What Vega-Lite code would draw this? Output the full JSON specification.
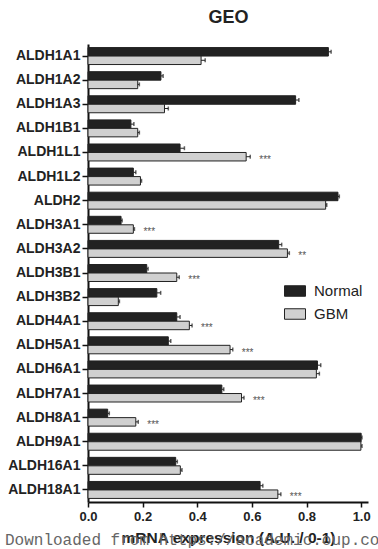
{
  "$schema": "https://vega.github.io/schema/vega-lite/v6.json",
  "autosize": "none",
  "width": 280,
  "height": 458,
  "padding": {"left": 88, "top": 44, "right": 10, "bottom": 47},
  "background": "white",
  "config": {
    "font": "Liberation Sans",
    "view": {"stroke": null}
  },
  "title": {
    "text": "Downloaded from https://academic.oup.com",
    "orient": "bottom",
    "anchor": "start",
    "frame": "group",
    "font": "Liberation Mono",
    "fontSize": 16,
    "fontWeight": "normal",
    "color": "#666666",
    "offset": -14,
    "dx": -83
  },
  "data": {
    "values": [
      {"gene": "ALDH1A1", "group": "Normal", "value": 0.88, "hi": 0.89},
      {"gene": "ALDH1A1", "group": "GBM", "value": 0.414, "hi": 0.429},
      {"gene": "ALDH1A2", "group": "Normal", "value": 0.267, "hi": 0.275},
      {"gene": "ALDH1A2", "group": "GBM", "value": 0.182, "hi": 0.188},
      {"gene": "ALDH1A3", "group": "Normal", "value": 0.76, "hi": 0.772},
      {"gene": "ALDH1A3", "group": "GBM", "value": 0.28, "hi": 0.294},
      {"gene": "ALDH1B1", "group": "Normal", "value": 0.157, "hi": 0.168},
      {"gene": "ALDH1B1", "group": "GBM", "value": 0.182, "hi": 0.188},
      {"gene": "ALDH1L1", "group": "Normal", "value": 0.337, "hi": 0.353},
      {"gene": "ALDH1L1", "group": "GBM", "value": 0.579, "hi": 0.594, "sig": "***"},
      {"gene": "ALDH1L2", "group": "Normal", "value": 0.166, "hi": 0.175},
      {"gene": "ALDH1L2", "group": "GBM", "value": 0.192, "hi": 0.196},
      {"gene": "ALDH2", "group": "Normal", "value": 0.915, "hi": 0.92},
      {"gene": "ALDH2", "group": "GBM", "value": 0.87, "hi": 0.874},
      {"gene": "ALDH3A1", "group": "Normal", "value": 0.121, "hi": 0.125},
      {"gene": "ALDH3A1", "group": "GBM", "value": 0.166, "hi": 0.17, "sig": "***"},
      {"gene": "ALDH3A2", "group": "Normal", "value": 0.698, "hi": 0.709},
      {"gene": "ALDH3A2", "group": "GBM", "value": 0.73, "hi": 0.737, "sig": "**"},
      {"gene": "ALDH3B1", "group": "Normal", "value": 0.215, "hi": 0.22},
      {"gene": "ALDH3B1", "group": "GBM", "value": 0.325, "hi": 0.334, "sig": "***"},
      {"gene": "ALDH3B2", "group": "Normal", "value": 0.252, "hi": 0.266},
      {"gene": "ALDH3B2", "group": "GBM", "value": 0.111, "hi": 0.115},
      {"gene": "ALDH4A1", "group": "Normal", "value": 0.325, "hi": 0.337},
      {"gene": "ALDH4A1", "group": "GBM", "value": 0.371, "hi": 0.381, "sig": "***"},
      {"gene": "ALDH5A1", "group": "Normal", "value": 0.294, "hi": 0.303},
      {"gene": "ALDH5A1", "group": "GBM", "value": 0.52, "hi": 0.53, "sig": "***"},
      {"gene": "ALDH6A1", "group": "Normal", "value": 0.84, "hi": 0.852},
      {"gene": "ALDH6A1", "group": "GBM", "value": 0.836, "hi": 0.847},
      {"gene": "ALDH7A1", "group": "Normal", "value": 0.49, "hi": 0.497},
      {"gene": "ALDH7A1", "group": "GBM", "value": 0.562, "hi": 0.571, "sig": "***"},
      {"gene": "ALDH8A1", "group": "Normal", "value": 0.072, "hi": 0.078},
      {"gene": "ALDH8A1", "group": "GBM", "value": 0.175, "hi": 0.184, "sig": "***"},
      {"gene": "ALDH9A1", "group": "Normal", "value": 1.0, "hi": 1.003},
      {"gene": "ALDH9A1", "group": "GBM", "value": 0.999, "hi": 1.003},
      {"gene": "ALDH16A1", "group": "Normal", "value": 0.321, "hi": 0.327},
      {"gene": "ALDH16A1", "group": "GBM", "value": 0.338, "hi": 0.344},
      {"gene": "ALDH18A1", "group": "Normal", "value": 0.63, "hi": 0.64},
      {"gene": "ALDH18A1", "group": "GBM", "value": 0.695, "hi": 0.706, "sig": "***"}
    ]
  },
  "encoding": {
    "y": {
      "field": "gene",
      "type": "nominal",
      "sort": ["ALDH1A1","ALDH1A2","ALDH1A3","ALDH1B1","ALDH1L1","ALDH1L2","ALDH2","ALDH3A1","ALDH3A2","ALDH3B1","ALDH3B2","ALDH4A1","ALDH5A1","ALDH6A1","ALDH7A1","ALDH8A1","ALDH9A1","ALDH16A1","ALDH18A1"],
      "scale": {"paddingInner": 0, "paddingOuter": 0},
      "axis": {
        "orient": "left",
        "title": null,
        "grid": false,
        "domainColor": "#111111",
        "domainWidth": 2,
        "tickColor": "#111111",
        "tickWidth": 1.5,
        "tickSize": 6,
        "labelFontSize": 14,
        "labelFontWeight": "bold",
        "labelColor": "#222222",
        "labelPadding": 2
      }
    },
    "yOffset": {
      "field": "group",
      "type": "nominal",
      "sort": ["Normal", "GBM"],
      "scale": {"paddingInner": 0, "paddingOuter": 0.42}
    }
  },
  "layer": [
    {
      "mark": {"type": "bar", "stroke": "#222222", "strokeWidth": 1},
      "encoding": {
        "x": {
          "field": "value",
          "type": "quantitative",
          "scale": {"domain": [0, 1.025], "nice": false},
          "axis": {
            "orient": "bottom",
            "title": "mRNA expression (A.U. / 0-1)",
            "values": [0, 0.2, 0.4, 0.6, 0.8, 1.0],
            "format": ".1f",
            "grid": false,
            "domainColor": "#111111",
            "domainWidth": 2,
            "tickColor": "#111111",
            "tickWidth": 1.5,
            "tickSize": 5,
            "labelFontSize": 13,
            "labelFontWeight": "bold",
            "labelColor": "#222222",
            "labelPadding": 3,
            "labelFlush": false,
            "titleFontSize": 15.5,
            "titleFontWeight": "bold",
            "titleColor": "#222222",
            "titlePadding": 7
          }
        },
        "fill": {
          "field": "group",
          "type": "nominal",
          "scale": {"domain": ["Normal", "GBM"], "range": ["#222222", "#d0d0d0"]},
          "legend": {
            "title": null,
            "orient": "none",
            "legendX": 196,
            "legendY": 236,
            "padding": 0,
            "symbolType": "M-1,-0.5L1,-0.5L1,0.5L-1,0.5Z",
            "symbolSize": 441,
            "symbolStrokeColor": "#222222",
            "symbolStrokeWidth": 1,
            "symbolOpacity": 1,
            "labelFont": "Liberation Sans",
            "labelFontSize": 15,
            "labelColor": "#222222",
            "labelOffset": 8,
            "rowPadding": 4
          }
        }
      }
    },
    {
      "mark": {"type": "rule", "color": "#222222", "strokeWidth": 1},
      "encoding": {
        "x": {"field": "value", "type": "quantitative", "axis": null},
        "x2": {"field": "hi"}
      }
    },
    {
      "mark": {"type": "tick", "orient": "vertical", "color": "#222222", "size": 4, "thickness": 1.5},
      "encoding": {
        "x": {"field": "hi", "type": "quantitative", "axis": null}
      }
    },
    {
      "transform": [{"filter": "datum.sig != null"}],
      "mark": {"type": "text", "align": "left", "baseline": "middle", "dx": 9, "dy": 3, "fontSize": 10, "color": "#555555"},
      "encoding": {
        "x": {
          "field": "hi",
          "type": "quantitative",
          "axis": {
            "orient": "top",
            "title": "GEO",
            "labels": false,
            "ticks": false,
            "domain": false,
            "grid": false,
            "titleFontSize": 18,
            "titleFontWeight": "bold",
            "titleColor": "#222222",
            "titlePadding": 18
          }
        },
        "text": {"field": "sig"}
      }
    }
  ]
}
